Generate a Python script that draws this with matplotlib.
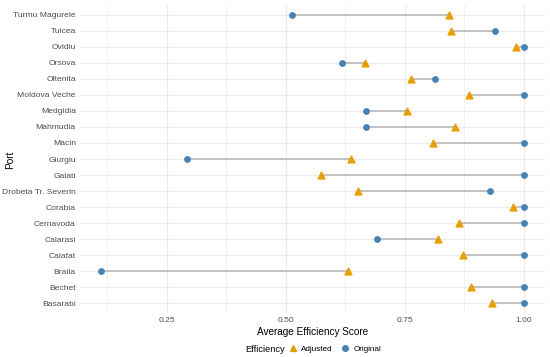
import numpy as np
import matplotlib
matplotlib.use('Agg')
import matplotlib.pyplot as plt
from matplotlib.lines import Line2D

plt.rcParams['font.family'] = ['Liberation Sans', 'DejaVu Sans']

# Ports listed bottom-to-top as plotted
ports = ['Basarabi', 'Bechet', 'Braila', 'Calafat', 'Calarasi', 'Cernavoda',
         'Corabia', 'Drobeta Tr. Severin', 'Galati', 'Giurgiu', 'Macin',
         'Mahmudia', 'Medgidia', 'Moldova Veche', 'Oltenita', 'Orsova',
         'Ovidiu', 'Tulcea', 'Turmu Magurele']
original = [1.0, 1.0, 0.112, 1.0, 0.691, 1.0,
            1.0, 0.929, 1.0, 0.293, 1.0,
            0.668, 0.668, 1.0, 0.813, 0.617,
            1.0, 0.940, 0.513]
adjusted = [0.933, 0.890, 0.630, 0.872, 0.820, 0.863,
            0.977, 0.652, 0.573, 0.636, 0.809,
            0.856, 0.755, 0.884, 0.763, 0.667,
            0.983, 0.847, 0.843]
x_ticks = [0.25, 0.50, 0.75, 1.00]
x_minor = [0.125, 0.375, 0.625, 0.875]

BLUE = '#4682B4'
ORANGE = '#E69F00'
GRID = '#EBEBEB'
TXT = '#4D4D4D'

fig = plt.figure(figsize=(5.5, 3.57), dpi=100)
ax = fig.add_axes([80 / 550, 1 - 313 / 357, 465 / 550, 308 / 357])

y = np.arange(len(ports))
ax.hlines(y, original, adjusted, color='#B3B3B3', linewidth=1.1, zorder=2)
ax.scatter(original, y, marker='o', s=15, color=BLUE, zorder=3)
ax.scatter(adjusted, y, marker='^', s=24, color=ORANGE, zorder=4)

lo, hi = min(original + adjusted), max(original + adjusted)
pad = (hi - lo) * 0.05
ax.set_xlim(lo - pad, hi + pad)
ax.set_ylim(-0.6, len(ports) - 0.4)

ax.set_xticks(x_ticks)
ax.set_xticklabels([f'{t:.2f}' for t in x_ticks])
ax.set_xticks(x_minor, minor=True)
ax.set_yticks(y)
ax.set_yticklabels(ports)

ax.grid(True, which='major', color=GRID, linewidth=0.8, zorder=0)
ax.grid(True, which='minor', axis='x', color=GRID, linewidth=0.5, zorder=0)
ax.set_axisbelow(True)
for s in ax.spines.values():
    s.set_visible(False)
ax.tick_params(which='both', length=0, labelsize=6.1, colors=TXT, pad=3)

ax.set_xlabel('Average Efficiency Score', fontsize=7.2, color='black', labelpad=2)
fig.text(10 / 550, 1 - 160 / 357, 'Port', rotation=90, fontsize=7.2,
         ha='center', va='center')

# legend along the bottom
fig.text(245 / 550, 1 - 349 / 357, 'Efficiency', fontsize=6.7, ha='left', va='center')
handles = [Line2D([], [], marker='^', color=ORANGE, linestyle='none', markersize=5),
           Line2D([], [], marker='o', color=BLUE, linestyle='none', markersize=4)]
fig.legend(handles, ['Adjusted', 'Original'], loc='center left',
           bbox_to_anchor=(289 / 550, 1 - 349 / 357), ncol=2, frameon=False,
           fontsize=5.9, handletextpad=0.5, columnspacing=1.0, handlelength=1.0,
           borderpad=0, borderaxespad=0)

fig.savefig('out.png', dpi=100)
